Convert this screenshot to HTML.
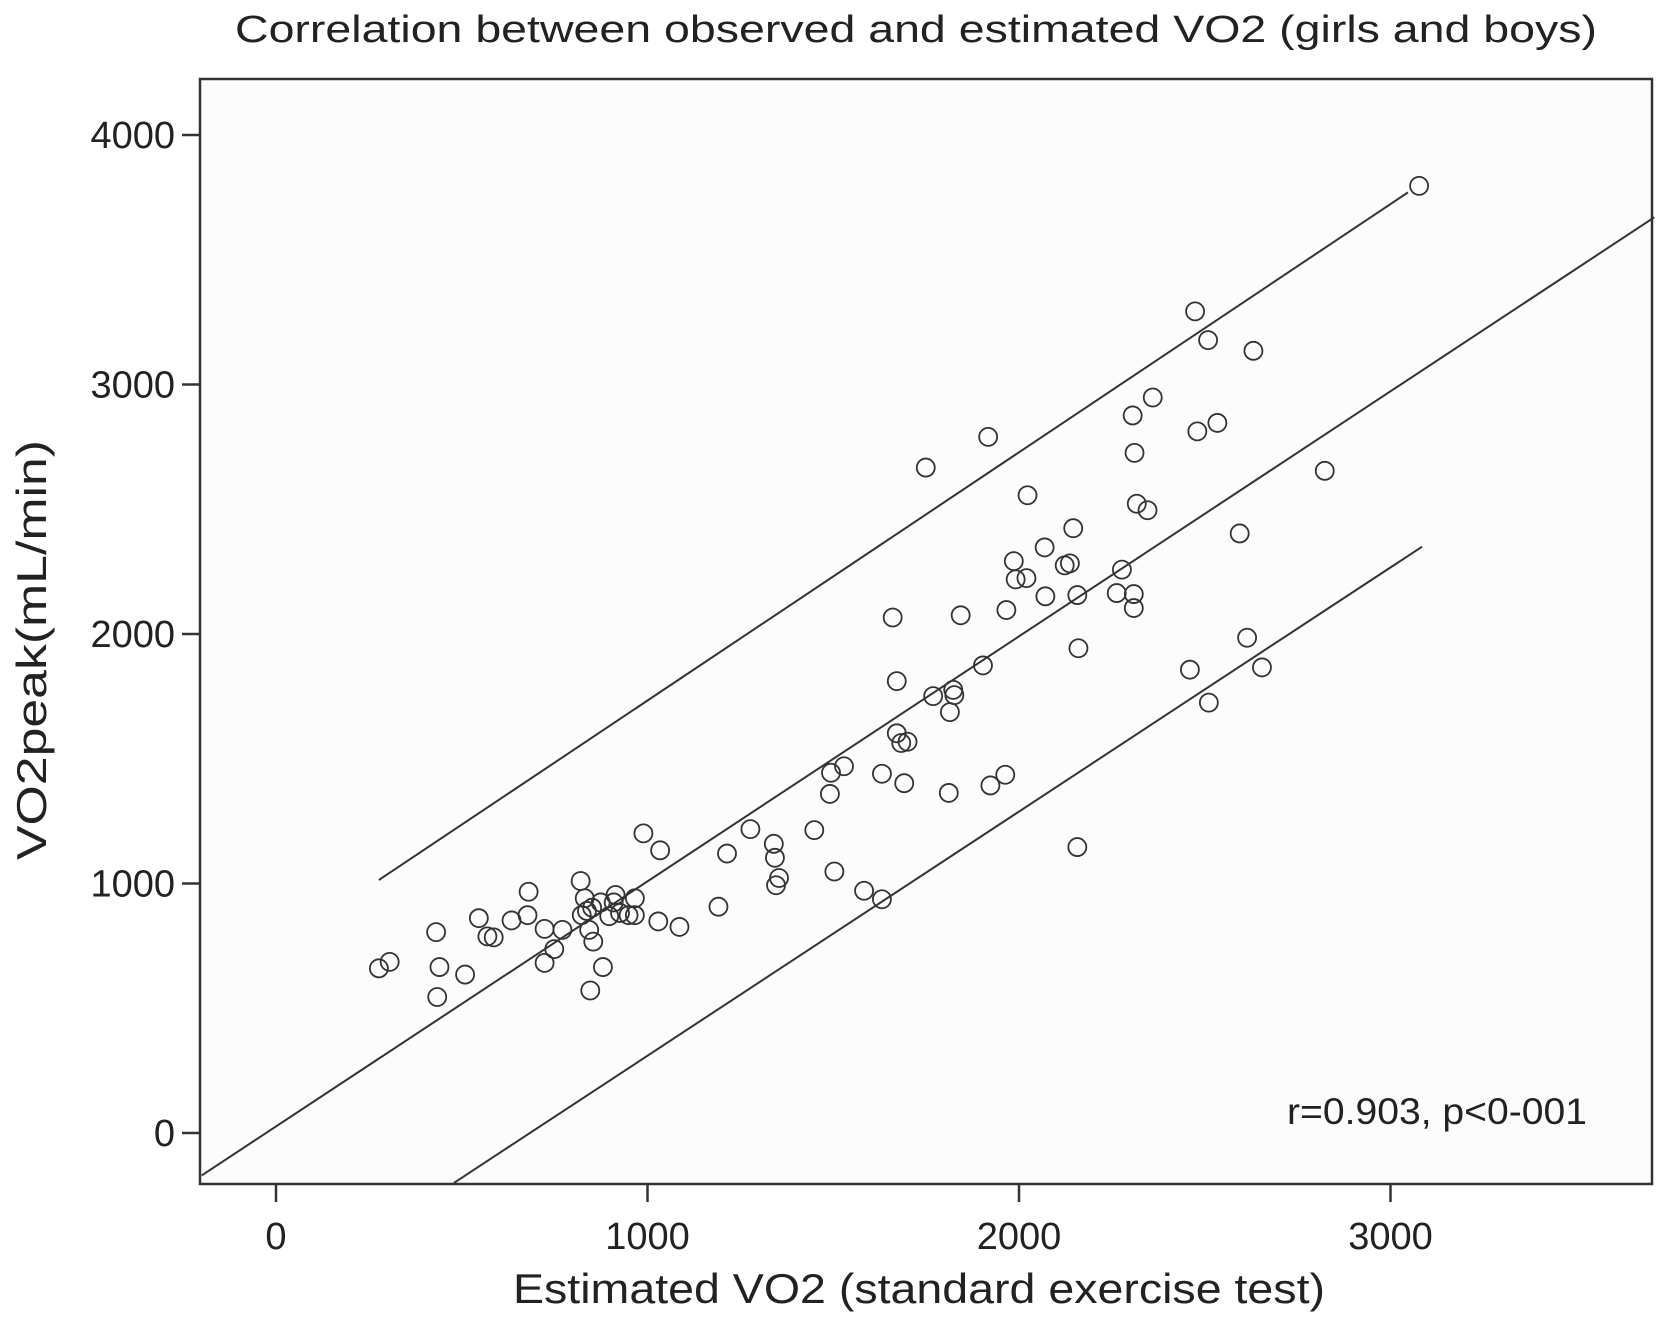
<!DOCTYPE html>
<html><head><meta charset="utf-8"><style>
html,body{margin:0;padding:0;background:#fff;}
svg{display:block;font-family:"Liberation Sans",sans-serif;}
</style></head><body>
<svg id="chart" width="1658" height="1318" viewBox="0 0 1658 1318" xmlns="http://www.w3.org/2000/svg">
<rect x="0" y="0" width="1658" height="1318" fill="#fff"/>
<text x="916" y="42" font-size="38" text-anchor="middle" textLength="1362" lengthAdjust="spacingAndGlyphs" fill="#222">Correlation between observed and estimated VO2 (girls and boys)</text>
<rect x="200" y="79" width="1452" height="1105" fill="#fcfcfc" stroke="#333" stroke-width="2.5"/>
<g id="axes"></g>
<g id="lines"></g>
<g id="points"></g>
<text x="919" y="1303" font-size="42" text-anchor="middle" textLength="812" lengthAdjust="spacingAndGlyphs" fill="#222">Estimated VO2 (standard exercise test)</text>
<text transform="translate(46,650) rotate(-90)" font-size="42" text-anchor="middle" textLength="420" lengthAdjust="spacingAndGlyphs" fill="#222">VO2peak(mL/min)</text>
<text x="1587" y="1124" font-size="37" text-anchor="end" textLength="300" lengthAdjust="spacingAndGlyphs" fill="#222">r=0.903, p&lt;0-001</text>
</svg>
<script>
const xTicks = [0, 1000, 2000, 3000];
const yTicks = [0, 1000, 2000, 3000, 4000];
const xValues = [277,306,431,440,434,509,546,569,586,634,677,680,723,723,749,771,820,823,831,837,843,846,854,851,874,880,897,909,914,926,949,966,966,989,1029,1034,1086,1191,1214,1277,1340,1343,1354,1346,1449,1491,1494,1503,1529,1583,1631,1631,1660,1671,1671,1683,1700,1691,1749,1769,1811,1814,1823,1826,1843,1903,1917,1923,1963,1966,1986,1991,2020,2023,2069,2071,2123,2137,2146,2157,2160,2157,2263,2277,2306,2309,2309,2311,2317,2346,2360,2460,2474,2480,2509,2511,2534,2594,2614,2631,2654,2823,3077];
const yValues = [660,686,805,665,545,635,861,788,784,852,873,967,818,682,737,814,1010,873,941,890,814,571,767,903,924,665,869,924,954,882,873,873,941,1201,848,1133,826,907,1120,1218,1159,1103,1022,993,1214,1359,1444,1048,1470,971,937,1440,2066,1811,1602,1563,1568,1402,2667,1751,1363,1687,1776,1755,2075,1874,2790,1393,1436,2096,2292,2219,2224,2556,2347,2151,2275,2283,2424,2156,1943,1146,2164,2258,2876,2160,2104,2726,2522,2496,2948,1857,3293,2812,3178,1725,2846,2403,1985,3135,1866,2654,3796];
const fitX = [-200, 3710];
const fitY = [-170, 3670];
const upperX = [277, 3047];
const upperY = [1014, 3770];
const lowerX = [479, 3085];
const lowerY = [-200, 2350];

const NS = "http://www.w3.org/2000/svg";
const X0 = 276, XS = 0.3715, Y0 = 1133, YS = 0.2495;
function sx(v){ return X0 + v*XS; }
function sy(v){ return Y0 - v*YS; }
function mk(tag, attrs, parent){ const e=document.createElementNS(NS,tag); for(const k in attrs) e.setAttribute(k, attrs[k]); parent.appendChild(e); return e; }

const axes = document.getElementById('axes');
xTicks.forEach(t=>{
  const l = mk('line',{x1:sx(t),x2:sx(t),y1:1184,y2:1202,stroke:'#333','stroke-width':2.5},axes);
  
  
  const tx = mk('text',{x:sx(t),y:1249,'font-size':38,'text-anchor':'middle',fill:'#222'},axes);
  tx.textContent = t;
  
  
});
yTicks.forEach(t=>{
  const l = mk('line',{x1:182,x2:200,y1:sy(t),y2:sy(t),stroke:'#333','stroke-width':2.5},axes);
  
  
  const tx = mk('text',{x:175,y:sy(t)+13,'font-size':38,'text-anchor':'end',fill:'#222'},axes);
  tx.textContent = t;
  
  
});

const lines = document.getElementById('lines');
const fl = mk('line',{x1:sx(fitX[0]),y1:sy(fitY[0]),x2:sx(fitX[1]),y2:sy(fitY[1]),stroke:'#333','stroke-width':2},lines);


const ul = mk('line',{x1:sx(upperX[0]),y1:sy(upperY[0]),x2:sx(upperX[1]),y2:sy(upperY[1]),stroke:'#333','stroke-width':2},lines);


const ll = mk('line',{x1:sx(lowerX[0]),y1:sy(lowerY[0]),x2:sx(lowerX[1]),y2:sy(lowerY[1]),stroke:'#333','stroke-width':2},lines);



const pts = document.getElementById('points');
xValues.forEach((v,i)=>{
  const c = mk('circle',{cx:sx(v),cy:sy(yValues[i]),r:9,fill:'none',stroke:'#333','stroke-width':1.8},pts);
  
  
});
</script>
</body></html>
